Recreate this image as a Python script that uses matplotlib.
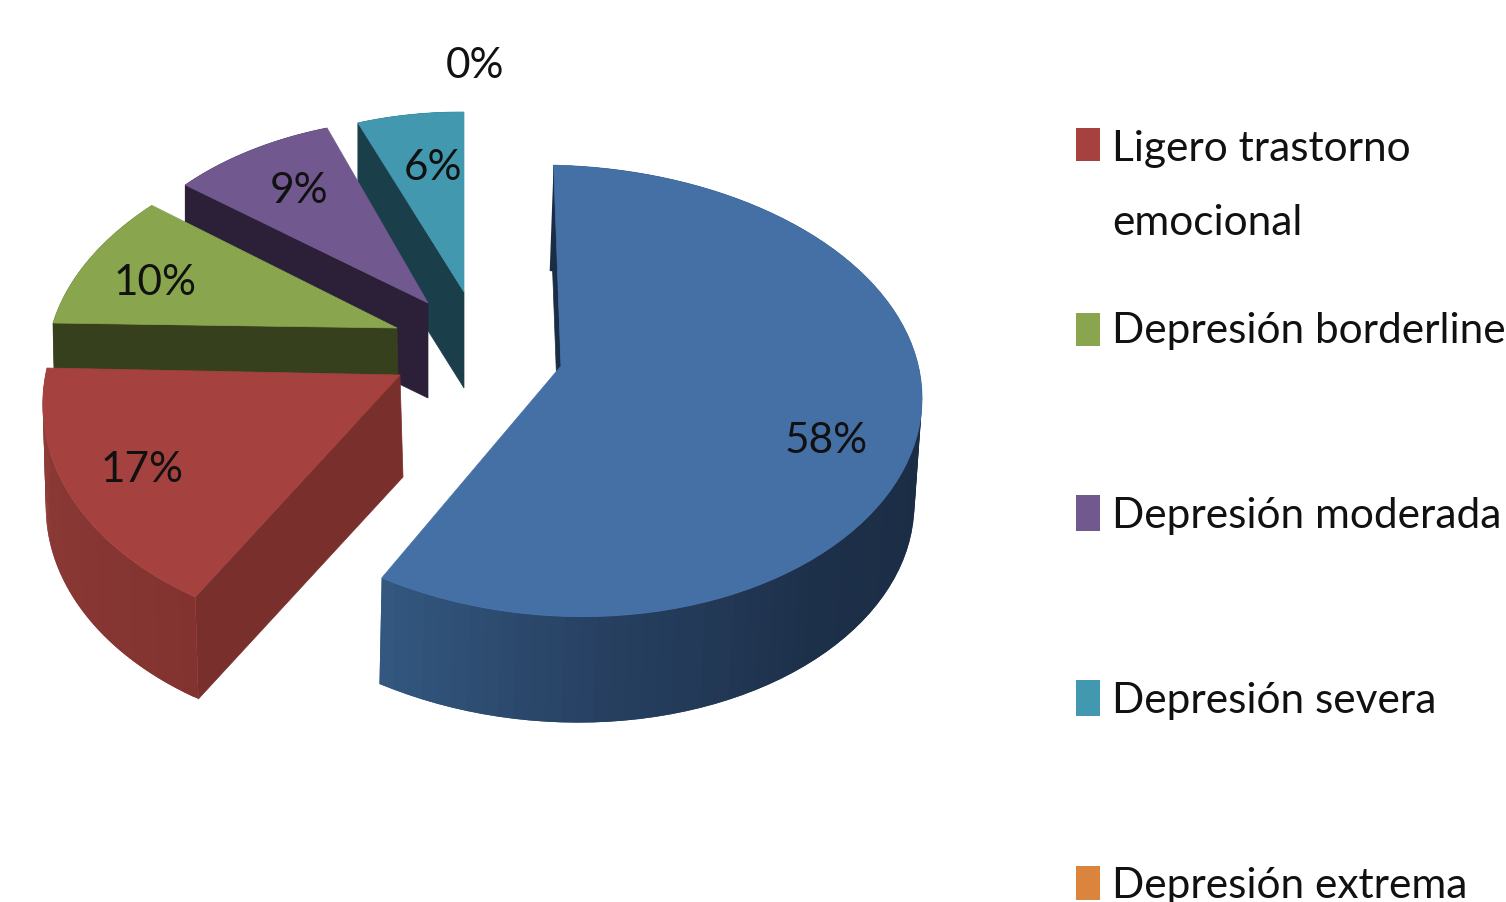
"""3D exploded pie: depression levels. Drawn in pixel coordinates with a small perspective projection."""
import matplotlib
matplotlib.use("Agg")
import matplotlib.pyplot as plt
from matplotlib.colors import to_rgb
from matplotlib.patches import Polygon, Rectangle
import numpy as np

categories = ["Normal", "Ligero trastorno\nemocional", "Depresión borderline",
              "Depresión moderada", "Depresión severa", "Depresión extrema"]
values = [58, 17, 10, 9, 6, 0]

top_colors = ["#4470a6", "#a5423f", "#89a54e", "#71588f", "#4198af", "#db843d"]
face_colors = ["#1b2d45", "#792f2c", "#37401c", "#2c2039", "#1a3e4a", "#7a4a20"]
rim_colors = [["#1b2d45", "#1b2d45", "#1b2d45", "#1b2d45", "#1d3049", "#263f60", "#33577f"],
              ["#823330", "#8f3b37"],
              ["#37401c", "#37401c"],
              ["#2c2039", "#2c2039"],
              ["#1a3e4a", "#1a3e4a"],
              ["#7a4a20", "#7a4a20"]]

# per slice projection: apex, radii, skew, perspective x/y, wall offset, radial wall x, wall rim scale
geometry = [
    dict(apex=(561, 366), rx=359, ry=223, kx=-8, ky=8, px=0.085, py=0.11, wall=(-4, 106), fx=-1, ws=0.99),
    dict(apex=(400, 375), rx=353, ry=235, kx=19, ky=7, px=0.1, py=0.1, wall=(3, 102), fx=3, ws=1.0),
    dict(apex=(397, 328), rx=344, ry=214, kx=32, ky=5, px=0.1, py=0.1, wall=(2, 95), fx=2, ws=1.0),
    dict(apex=(428, 303), rx=325, ry=203, kx=10, ky=7, px=0.1, py=0.1, wall=(0, 95), fx=0, ws=1.0),
    dict(apex=(464, 292), rx=315, ry=198, kx=0, ky=2, px=0.1, py=0.1, wall=(0, 96), fx=0, ws=1.0),
]

pct_pos = [(826, 441), (142, 470), (155, 283), (299, 191), (433, 168), (475, 66)]
legend_y = [(128, 161), (313, 346), (495, 531), (680, 716), (866, 900)]
legend_base = [161, 343, 528, 713, 898]
FONT = ["Lato", "DejaVu Sans"]
FONT_SIZE = 30.5


def project(g, theta):
    # theta clockwise from the top of the pie, in degrees
    t = np.radians(theta)
    sx = 1 / (1 + g["px"] * np.cos(t))
    sy = 1 / (1 + g["py"] * np.cos(t))
    x = g["apex"][0] + (g["rx"] * np.sin(t) + g["kx"] * np.cos(t)) * sx
    y = g["apex"][1] + (-g["ry"] * np.cos(t) + g["ky"] * np.sin(t)) * sy
    return x, y


def draw_slice(ax, i, start, end):
    g = geometry[i]
    ox, oy = g["wall"]
    fx = g["fx"]
    ths = np.linspace(start, end, 90)
    xs, ys = project(g, ths)
    ax0, ay0 = g["apex"]
    # bottom rim: slightly narrower than the top one
    bx = ax0 + (xs - ax0) * g["ws"] + ox
    by = ys + oy

    # radial wall on the start edge
    ax.add_patch(Polygon([(xs[0], ys[0]), (ax0, ay0), (ax0 + fx, ay0 + oy), (xs[0] + fx, ys[0] + oy)],
                         closed=True, fc=face_colors[i], ec=face_colors[i], lw=0.5))

    # outer wall with gradient along the rim, each quad runs under the next one
    stops = [to_rgb(c) for c in rim_colors[i]]
    pos = np.linspace(0, 1, len(stops))
    for j in range(len(ths) - 1):
        f = j / (len(ths) - 2)
        col = [np.interp(f, pos, [s[k] for s in stops]) for k in range(3)]
        n = min(j + 2, len(ths) - 1)
        ax.add_patch(Polygon([(xs[j], ys[j]), (xs[n], ys[n]), (bx[n], by[n]), (bx[j], by[j])],
                             closed=True, fc=col, ec="none"))

    # top face
    top = [(ax0, ay0)] + list(zip(xs, ys))
    ax.add_patch(Polygon(top, closed=True, fc=top_colors[i], ec=top_colors[i], lw=0.5))


def main():
    fig = plt.figure(figsize=(15.06, 9.02), dpi=100)
    ax = fig.add_axes([0, 0, 1, 1])
    ax.set_xlim(0, 1506)
    ax.set_ylim(902, 0)
    ax.axis("off")

    edges = np.cumsum([0] + values) * 3.6
    # back slices first, blue one last
    for i in [4, 3, 2, 1, 0]:
        draw_slice(ax, i, edges[i], edges[i + 1])

    for v, (x, y) in zip(values, pct_pos):
        ax.text(x, y, f"{v}%", ha="center", va="center", fontsize=FONT_SIZE,
                family=FONT, color="#111111")

    for k, name in enumerate(categories[1:]):
        y0, y1 = legend_y[k]
        ax.add_patch(Rectangle((1076, y0), 24, y1 - y0, fc=top_colors[k + 1], ec="none"))
        lines = name.split("\n")
        ax.text(1112, legend_base[k], lines[0], ha="left", va="baseline", fontsize=FONT_SIZE,
                family=FONT, color="#111111")
        if len(lines) > 1:
            ax.text(1112, legend_base[k] + 74, lines[1], ha="left", va="baseline", fontsize=FONT_SIZE,
                    family=FONT, color="#111111")

    fig.savefig("out.png", dpi=100)


if __name__ == "__main__":
    main()
